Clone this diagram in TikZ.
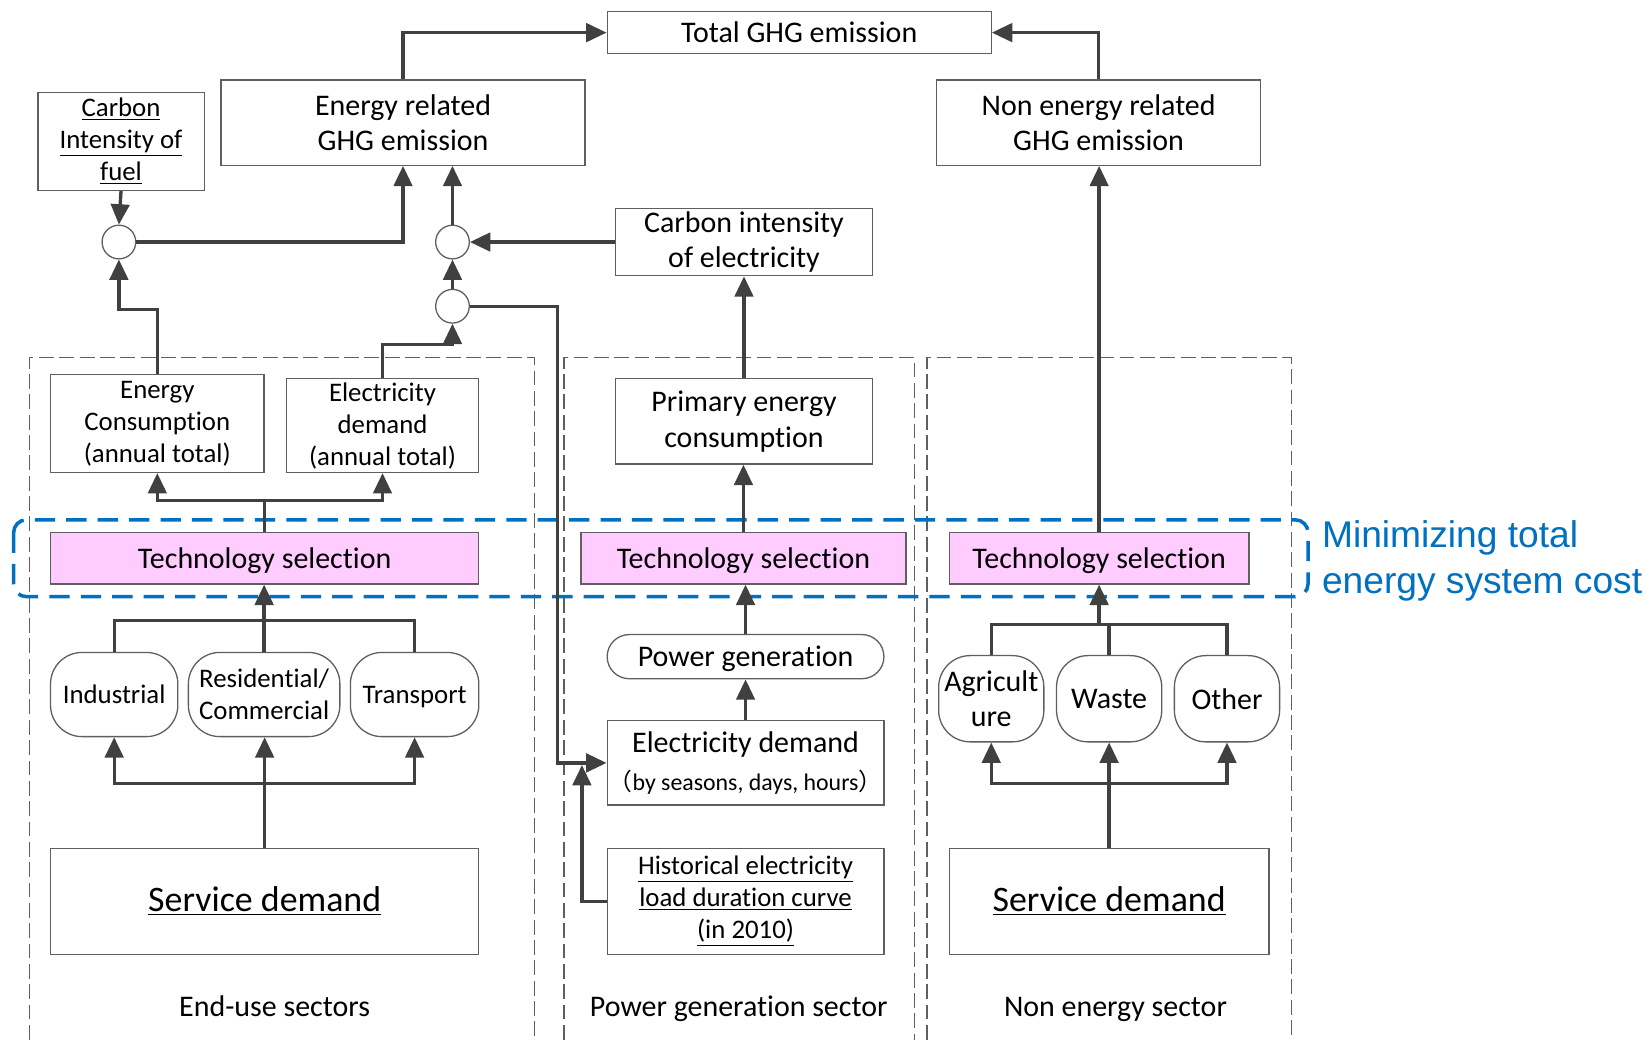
\documentclass[tikz,border=0pt]{standalone}
\usepackage{fontspec}
\setmainfont{Carlito}[Ligatures={NoCommon,NoRare}]
\newfontfamily\arialfont{Liberation Sans}
\newfontfamily\cjkfont{Noto Sans CJK SC}
\usetikzlibrary{arrows.meta}
\definecolor{lineclr}{RGB}{64,64,64}
\definecolor{boxclr}{RGB}{95,95,95}
\definecolor{blueclr}{RGB}{0,112,192}
\definecolor{pinkclr}{RGB}{255,204,255}
\newcommand\fA{\fontsize{16.2}{19.3}\selectfont}
\newcommand\fB{\fontsize{14.5}{17.3}\selectfont}
\newcommand\fS{\fontsize{19.4}{23}\selectfont}
\newcommand\fC{\fontsize{12.9}{15}\selectfont}
\newcommand\nodepth[1]{\raisebox{0pt}[\height][0pt]{#1}}
\newcommand\bx[7][]{\node[box,#1,minimum width={(#4-#2)*0.02cm},minimum height={(#5-#3)*0.02cm}] (#6) at ({(#2+#4)/2},{(#3+#5)/2}) {#7};}
\begin{document}
\begin{tikzpicture}[x=0.02cm,y=-0.02cm,
  box/.style={draw=boxclr,line width=0.7pt,inner sep=0pt,align=center,font=\fA,fill=white},
  rbox/.style={rounded corners=0.6cm},
  pbox/.style={rounded corners=0.42cm},
  tsel/.style={fill=pinkclr},
  conn/.style={draw=lineclr,line width=1.8pt,-{Triangle[length=11pt,width=10pt]}},
  plain/.style={draw=lineclr,line width=1.8pt},
  sector/.style={draw=boxclr,line width=0.7pt,dash pattern=on 8pt off 3pt},
  bluebox/.style={draw=blueclr,line width=1.9pt,dash pattern=on 11pt off 6pt,rounded corners=0.24cm},
  junc/.style={circle,draw=boxclr,line width=0.7pt,fill=white,minimum size=0.64cm,inner sep=0pt},
  lbl/.style={font=\fA,inner sep=0pt,anchor=base}]
\fill[white] (0,0) rectangle (1568,988);
\useasboundingbox (0,0) rectangle (1568,988);
% sector frames
\draw[sector] (28,988) -- (28,340) -- (508,340) -- (508,988);
\draw[sector] (536,988) -- (536,340) -- (869,340) -- (869,988);
\draw[sector] (881,988) -- (881,340) -- (1227,340) -- (1227,988);
% optimisation frame
\draw[bluebox] (13,494) rectangle (1243,567);
\node[font=\arialfont\fontsize{20.1}{24.4}\selectfont,text=blueclr,align=left,anchor=west,inner sep=0pt] (mini) at (1256,533) {Minimizing total\\energy system cost};
% top boxes
\bx{577}{11}{942}{51}{tot}{Total GHG emission}
\bx{210}{76}{556}{157}{enr}{Energy related\\GHG emission}
\bx[font=\fB]{36}{88}{194}{181}{cif}{\underline{Carbon}\\\underline{Intensity of}\\\underline{fuel}}
\bx{890}{76}{1198}{157}{non}{Non energy related\\GHG emission}
\bx{585}{198}{829}{262}{cie}{Carbon intensity\\of electricity}
\node[junc] (c1) at (113,230) {};
\node[junc] (c2) at (430,230) {};
\node[junc] (c3) at (430,291) {};
% end-use sector
\bx[font=\fB]{48}{356}{251}{449}{ec}{Energy\\Consumption\\(annual total)}
\bx[font=\fB]{272}{360}{455}{449}{ea}{Electricity\\demand\\(annual total)}
\bx[tsel]{48}{506}{455}{555}{ts1}{\nodepth{Technology selection}}
\bx[rbox,font=\fB]{48}{620}{169}{700}{ind}{Industrial}
\bx[rbox,font=\fB]{179}{620}{323}{700}{res}{Residential/\\Commercial}
\bx[rbox,font=\fB]{333}{620}{455}{700}{tra}{\nodepth{Transport}}
\bx{48}{806}{455}{907}{sd1}{\fS\underline{Service demand}}
\node[lbl] (lab1) at (261,966) {End-use sectors};
% power generation sector
\bx{585}{360}{829}{441}{pe}{Primary energy\\consumption}
\bx[tsel]{552}{506}{861}{555}{ts2}{\nodepth{Technology selection}}
\bx[pbox]{577}{603}{840}{645}{pg}{\nodepth{Power generation}}
\bx{577}{685}{840}{765}{ed}{Electricity demand\\[1pt]{\fC{\cjkfont （}by seasons, days, hours{\cjkfont ）}}}
\bx[font=\fB]{577}{806}{840}{907}{hist}{\underline{Historical electricity}\\\underline{load duration curve}\\\underline{(in 2010)}}
\node[lbl] (lab2) at (702,966) {Power generation sector};
% non energy sector
\bx[tsel]{902}{506}{1187}{555}{ts3}{\nodepth{Technology selection}}
\bx[rbox]{892}{623}{992}{705}{agr}{Agricult\\ure}
\bx[rbox]{1004}{623}{1104}{705}{was}{Waste}
\bx[rbox]{1116}{623}{1216}{705}{oth}{Other}
\bx{902}{806}{1206}{907}{sd3}{\fS\underline{Service demand}}
\node[lbl] (lab3) at (1060,966) {Non energy sector};
% helper coordinates
\coordinate (j1) at (530,725);
\coordinate (jh) at (553,727);
\coordinate (j3) at (1044.5,594);
% connectors: top
\draw[conn] (enr.north) |- (tot.west);
\draw[conn] (non.north) |- (tot.east);
\draw[conn] (cif.south) -- (c1.north);
\draw[conn] (c1.east) -| (enr.south);
\draw[conn] (c2.north) -- (c2.north |- enr.south);
\draw[conn] (cie.west) -- (c2.east);
\draw[conn] (c3.north) -- (c2.south);
\draw[conn] (ec.north) -- ++(0,-61) -| (c1.south);
\draw[conn] (ea.north) -- ++(0,-32) -| (c3.south);
\draw[conn] (c3.east) -| (j1) -- (ed.west);
\draw[conn] (hist.west) -| (jh);
% end-use
\draw[conn] (ts1.north) -- ++(0,-30) -| (ec.south);
\draw[conn] (ts1.north) -- ++(0,-30) -| (ea.south);
\draw[plain] (ind.north) -- ++(0,-30) -| (tra.north);
\draw[conn] (res.north) -- (res.north |- ts1.south);
\draw[conn] (sd1.north) -- (sd1.north |- res.south);
\draw[conn] (sd1.north) -- ++(0,-61) -| (ind.south);
\draw[conn] (sd1.north) -- ++(0,-61) -| (tra.south);
% power generation
\draw[conn] (ed.north) -- (pg.south);
\draw[conn] (pg.north) -- (pg.north |- ts2.south);
\draw[conn] (ts2.north) -- (ts2.north |- pe.south);
\draw[conn] (pe.north) -- (pe.north |- cie.south);
% non energy
\draw[plain] (agr.north) -- ++(0,-29) -| (oth.north);
\draw[plain] (was.north) -- ++(0,-29);
\draw[conn] (j3) -- (ts3.south);
\draw[conn] (ts3.north) -- (ts3.north |- non.south);
\draw[conn] (sd3.north) -- (was.south);
\draw[conn] (sd3.north) -- ++(0,-61) -| (agr.south);
\draw[conn] (sd3.north) -- ++(0,-61) -| (oth.south);
\end{tikzpicture}
\end{document}
